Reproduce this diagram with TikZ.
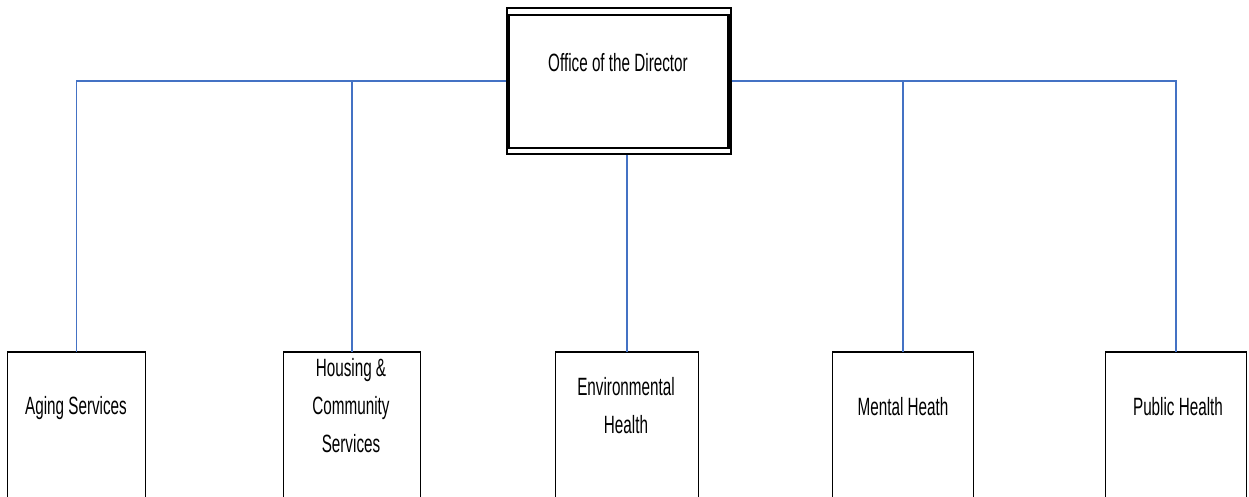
\documentclass[tikz,border=0pt]{standalone}
\usepackage{fontspec}
\setmainfont{Liberation Sans}[FakeStretch=0.61]
\definecolor{linkblue}{RGB}{68,114,196}
\begin{document}
\begin{tikzpicture}[x=1pt,y=-1pt,
  conn/.style={draw=linkblue, line width=1.6pt},
  unitbox/.style={draw=black, line width=1.3pt, minimum width=#1, minimum height=150pt, anchor=north west, inner sep=0pt},
  topedge/.style={line width=2.8pt},
  lbl/.style={font=\fontsize{25}{38}\selectfont, align=center, inner sep=0pt, anchor=base}
]
\useasboundingbox (0,0) rectangle (1249,496);
\clip (0,0) rectangle (1249,496);
% director
\node[draw, line width=1.8pt, minimum width=224pt, minimum height=146pt, anchor=north west, inner sep=0pt] (dir) at (505.7,7) {};
\draw[line width=2.2pt] ([xshift=3.3pt,yshift=-7.7pt]dir.north west) rectangle ([xshift=-3pt,yshift=7pt]dir.south east);
\node[lbl] (tdir) at (618,71) {Office of the Director};
% units
\node[unitbox=138pt] (aging) at (7,352) {};
\node[unitbox=137pt] (housing) at (283,352) {};
\node[unitbox=143pt] (env) at (555,352) {};
\node[unitbox=141pt] (mental) at (832,352) {};
\node[unitbox=141pt] (public) at (1105,352) {};
\foreach \b in {aging,housing,env,mental,public}
  \draw[topedge] (\b.north west) -- (\b.north east);
\node[lbl] (taging) at (76,414) {Aging Services};
\node[lbl] (thousing) at (351,452) {Housing \&\\Community\\Services};
\node[lbl] (tenv) at (626,433) {Environmental\\Health};
\node[lbl] (tmental) at (903,415) {Mental Heath};
\node[lbl] (tpublic) at (1178,415) {Public Health};
% connectors
\draw[conn] (dir.west) -| (aging.north);
\draw[conn] (dir.west) -| (housing.north);
\draw[conn] (dir.south -| env.north) -- (env.north);
\draw[conn] (dir.east) -| (mental.north);
\draw[conn] (dir.east) -| (public.north);
\end{tikzpicture}
\end{document}
